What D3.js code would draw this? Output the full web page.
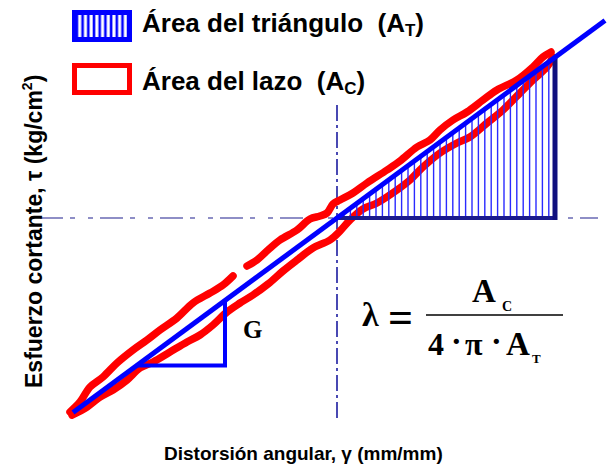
<!DOCTYPE html>
<html><head><meta charset="utf-8">
<script src="https://cdn.jsdelivr.net/npm/d3@7"></script>
<style>body{margin:0;background:#fff} svg{display:block} text{white-space:pre}</style>
</head><body>
<svg id="c" width="608" height="469"></svg>
<script>
// ---- data (γ, τ in arbitrary units, origin at the dash-dot axes crossing) ----
const shearModulus = 0.737;                 // slope G of the secant line
const secantGamma = [-2.64, 2.68];          // extent of the blue secant line
const triangleGamma = [0, 2.18];            // triangle A_T: from origin to max γ
const gTriangleGamma = [-2.0, -1.12];       // small slope triangle "G"
const axisHGamma = [-2.97, 2.61];           // horizontal dash-dot axis extent
const axisVTau = [-2.0, 1.13];              // vertical dash-dot axis extent

// loading branch (upper), null = gap in the trace
const upperGamma = [-2.67,-2.57,-2.47,-2.34,-2.20,-2.04,-1.90,-1.77,-1.60,-1.44,-1.27,-1.14,-1.04,null,-0.90,-0.80,-0.69,-0.57,-0.40,-0.27,-0.17,-0.10,-0.04,0.03,0.16,0.30,0.50,0.63,0.80,0.93,1.03,1.16,1.30,1.46,1.60,1.80,1.96,2.06,2.14];
const upperTau   = [-1.94,-1.84,-1.69,-1.59,-1.45,-1.32,-1.22,-1.12,-1.00,-0.85,-0.75,-0.67,-0.58,null,-0.48,-0.42,-0.32,-0.22,-0.12,-0.01,0.02,0.05,0.14,0.18,0.25,0.35,0.48,0.57,0.71,0.78,0.88,0.98,1.06,1.18,1.28,1.38,1.51,1.61,1.66];
// unloading branch (lower)
const lowerGamma = [-2.65,-2.50,-2.37,-2.24,-2.10,-1.97,-1.84,-1.67,-1.50,-1.37,-1.24,-1.10,-0.97,-0.84,-0.69,-0.54,-0.40,-0.24,-0.07,0.03,0.13,0.26,0.40,0.60,0.73,0.86,1.03,1.20,1.33,1.50,1.66,1.83,1.96,2.10,2.16];
const lowerTau   = [-1.97,-1.89,-1.79,-1.72,-1.62,-1.50,-1.44,-1.34,-1.24,-1.17,-1.07,-0.94,-0.85,-0.77,-0.66,-0.53,-0.42,-0.30,-0.22,-0.13,-0.02,0.09,0.15,0.28,0.38,0.51,0.65,0.75,0.81,0.95,1.08,1.25,1.38,1.51,1.61];

const legendLabels = ["Área del triángulo  (A", "Área del lazo  (A"];
const legendSubs = ["T", "C"];
const xTitle = "Distorsión angular, γ (mm/mm)";
const yTitle = "Esfuerzo cortante, τ (kg/cm";

// ---- scales ----
const svg = d3.select("#c");
svg.append("rect").attr("width",608).attr("height",469).attr("fill","#fff");
const x = d3.scaleLinear().domain([-2.7, 2.7]).range([67, 607]);
const y = d3.scaleLinear().domain([-2.0, 2.0]).range([418, 18]);

const sans = "'Liberation Sans', Arial, sans-serif";
const serif = "'Liberation Serif', 'Times New Roman', serif";

// dash-dot axes
svg.append("line")
  .attr("x1", x(axisHGamma[0])).attr("x2", x(axisHGamma[1]))
  .attr("y1", y(0)).attr("y2", y(0))
  .attr("stroke", "#6a6ab4").attr("stroke-width", 1.6)
  .attr("stroke-dasharray", "23,7,5,13,5,7");
svg.append("line")
  .attr("x1", x(0)).attr("x2", x(0))
  .attr("y1", y(axisVTau[1])).attr("y2", y(axisVTau[0]))
  .attr("stroke", "#1c1ca0").attr("stroke-width", 1.6)
  .attr("stroke-dasharray", "16,4,3,4");

// red hysteresis loop
const line = d3.line().defined(d => d[0] !== null)
  .x(d => x(d[0])).y(d => y(d[1])).curve(d3.curveCatmullRom.alpha(0.5));
const upper = upperGamma.map((g,i) => [g, upperTau[i]]);
const lower = lowerGamma.map((g,i) => [g, lowerTau[i]]);
[upper, lower].forEach(pts => {
  svg.append("path").attr("d", line(pts)).attr("fill","none")
    .attr("stroke","#ff0000").attr("stroke-width",7.5)
    .attr("stroke-linecap","round").attr("stroke-linejoin","round");
});

// hatch of triangle
const hatch = d3.range(triangleGamma[0] + 0.07, triangleGamma[1] - 0.02, 0.064);
svg.append("g").selectAll("line").data(hatch).join("line")
  .attr("x1", d => x(d)).attr("x2", d => x(d))
  .attr("y1", y(0)).attr("y2", d => y(shearModulus*d))
  .attr("stroke", "#2a2aff").attr("stroke-width", 1.4);
// triangle bottom & right edges
svg.append("line")
  .attr("x1", x(triangleGamma[0])).attr("x2", x(triangleGamma[1]))
  .attr("y1", y(0)).attr("y2", y(0))
  .attr("stroke", "#1a1a8e").attr("stroke-width", 4);
svg.append("line")
  .attr("x1", x(triangleGamma[1])).attr("x2", x(triangleGamma[1]))
  .attr("y1", y(0)+2).attr("y2", y(shearModulus*triangleGamma[1]))
  .attr("stroke", "#10107e").attr("stroke-width", 5);

// secant line
svg.append("line")
  .attr("x1", x(secantGamma[0])).attr("y1", y(shearModulus*secantGamma[0]))
  .attr("x2", x(secantGamma[1])).attr("y2", y(shearModulus*secantGamma[1]))
  .attr("stroke", "#0000ff").attr("stroke-width", 5);

// G slope triangle
const gy0 = shearModulus*gTriangleGamma[0], gy1 = shearModulus*gTriangleGamma[1];
svg.append("path")
  .attr("d", `M${x(gTriangleGamma[0])},${y(gy0)}H${x(gTriangleGamma[1])}V${y(gy1)}`)
  .attr("fill","none").attr("stroke","#0000ff").attr("stroke-width",4);
svg.append("text").attr("x", x(gTriangleGamma[1]) + 18).attr("y", y(gy0) - 27)
  .attr("font-family", serif).attr("font-weight","bold").attr("font-size",25).text("G");

// legend
const defs = svg.append("defs");
const pat = defs.append("pattern").attr("id","hp").attr("patternUnits","userSpaceOnUse")
  .attr("width",5.7).attr("height",10).attr("x",74);
pat.append("rect").attr("width",5.7).attr("height",10).attr("fill","#fff");
pat.append("rect").attr("x",1.6).attr("width",2.6).attr("height",10).attr("fill","#0000ff");
svg.append("rect").attr("x",74.5).attr("y",12.5).attr("width",55).attr("height",27)
  .attr("fill","url(#hp)").attr("stroke","#0000ff").attr("stroke-width",5);
svg.append("rect").attr("x",74.5).attr("y",65.5).attr("width",55).attr("height",27)
  .attr("fill","#fff").attr("stroke","#ff0000").attr("stroke-width",5);
[32, 90].forEach((by, i) => {
  const t = svg.append("text").attr("x",142).attr("y",by)
    .attr("font-family", sans).attr("font-weight","bold").attr("font-size",26);
  t.append("tspan").text(legendLabels[i]);
  t.append("tspan").attr("font-size",17).attr("dy",4).text(legendSubs[i]);
  t.append("tspan").attr("dy",-4).text(")");
});

// formula
const f = svg.append("g").attr("font-family", serif).attr("font-weight","bold").attr("fill","#000");
f.append("text").attr("x",362).attr("y",326).attr("font-size",34).text("λ");
f.append("text").attr("x",388).attr("y",332).attr("font-size",44).text("=");
f.append("line").attr("x1",426).attr("x2",563).attr("y1",315).attr("y2",315).attr("stroke","#000").attr("stroke-width",1.5);
f.append("text").attr("x",472).attr("y",302).attr("font-size",33).text("A");
f.append("text").attr("x",502).attr("y",311).attr("font-size",14).text("C");
f.append("text").attr("x",428).attr("y",355).attr("font-size",32).text("4");
f.append("text").attr("x",451).attr("y",352).attr("font-size",32).text("·");
f.append("text").attr("x",465).attr("y",355).attr("font-size",32).text("π");
f.append("text").attr("x",491).attr("y",352).attr("font-size",32).text("·");
f.append("text").attr("x",506).attr("y",355).attr("font-size",33).text("A");
f.append("text").attr("x",532).attr("y",363).attr("font-size",13).text("T");

// axis titles
svg.append("text").attr("x",164).attr("y",460)
  .attr("font-family", sans).attr("font-weight","bold").attr("font-size",19).text(xTitle);
const yt = svg.append("text").attr("transform","translate(42,388) rotate(-90)")
  .attr("font-family", sans).attr("font-weight","bold").attr("font-size",23);
yt.append("tspan").text(yTitle);
yt.append("tspan").attr("font-size",14).attr("dy",-10).text("2");
yt.append("tspan").attr("dy",10).text(")");
</script>
</body></html>
